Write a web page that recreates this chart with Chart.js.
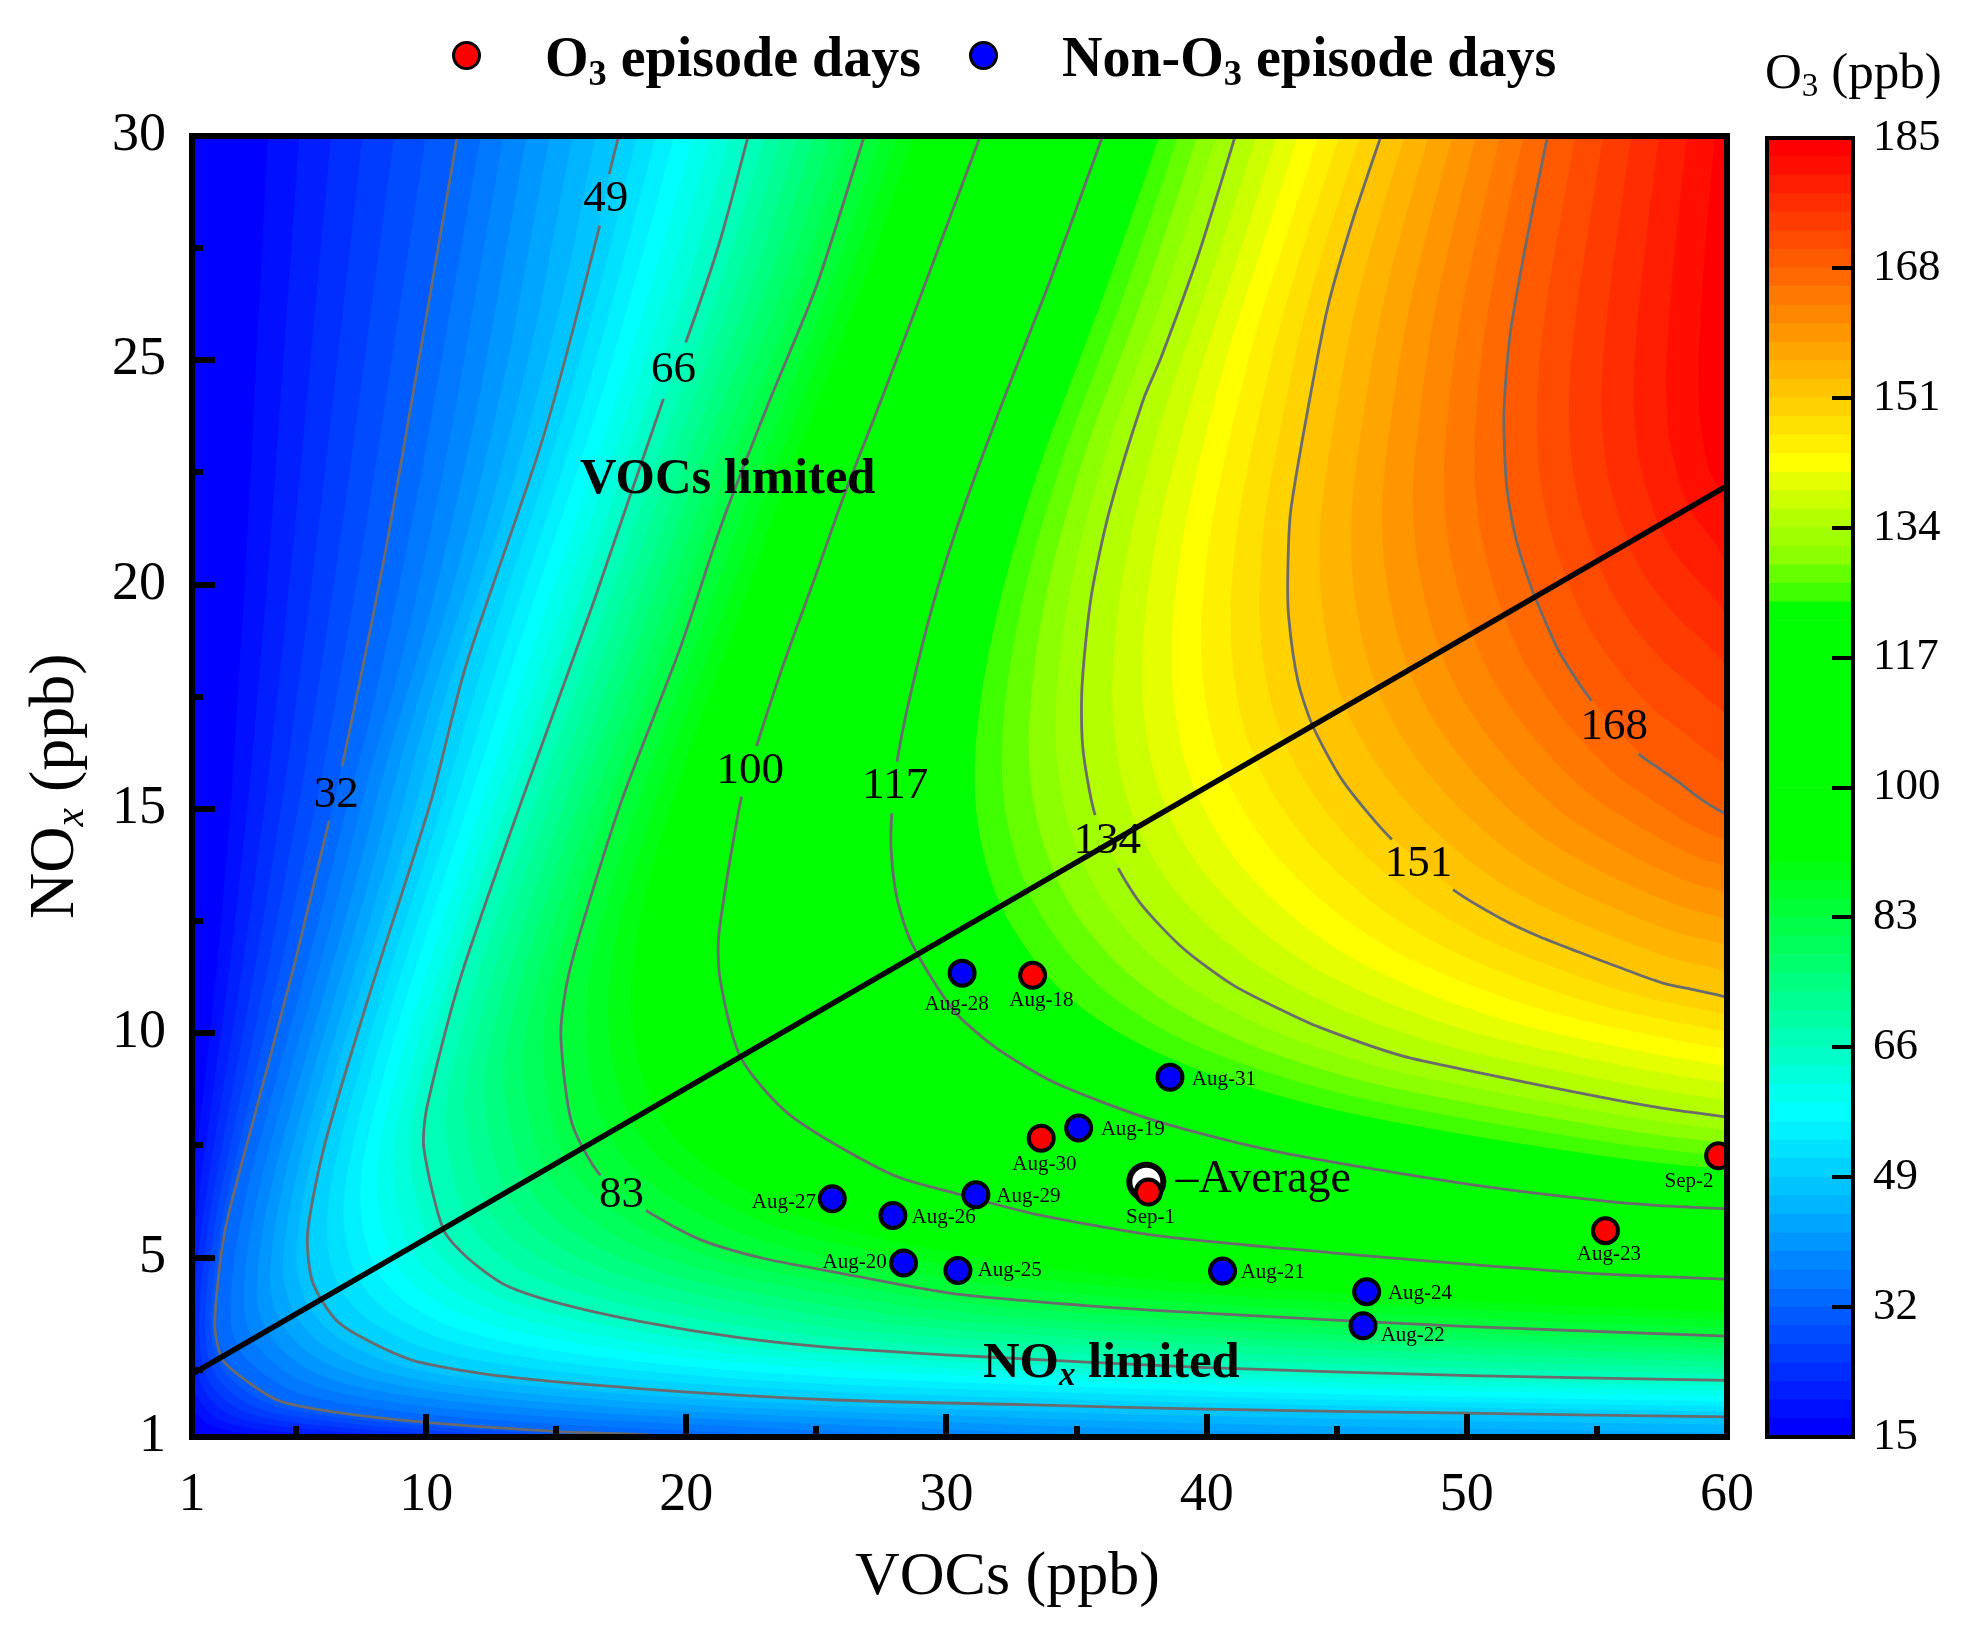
<!DOCTYPE html>
<html>
<head>
<meta charset="utf-8">
<title>O3 isopleth</title>
<script src="https://cdn.jsdelivr.net/npm/chart.js@4/dist/chart.umd.min.js"></script>
<style>
html,body{margin:0;padding:0;background:#fff;}
#wrap{position:relative;width:1970px;height:1638px;overflow:hidden;font-family:"Liberation Serif",serif;color:#000;}
canvas{position:absolute;top:0;}
#plot{left:0;}
#bar{left:1740px;}
.t{position:absolute;line-height:1;white-space:nowrap;}
.t sub{font-size:65%;line-height:0;vertical-align:-0.25em;}
.leg{font-size:56px;font-weight:bold;top:29px;}
.dot{position:absolute;width:23px;height:23px;border:3px solid #000;border-radius:50%;top:41px;}
</style>
</head>
<body>
<div id="wrap">
<canvas id="plot" width="1970" height="1638"></canvas>
<canvas id="bar" width="230" height="1638"></canvas>
<div class="dot" style="left:452px;background:#f00"></div>
<div class="t leg" style="left:545px">O<sub>3</sub> episode days</div>
<div class="dot" style="left:969px;background:#00f"></div>
<div class="t leg" style="left:1062px">Non-O<sub>3</sub> episode days</div>
<div class="t" style="left:1765px;top:46px;font-size:51px">O<sub>3</sub> (ppb)</div>
<div class="t" style="left:855px;top:1542px;font-size:62px">VOCs (ppb)</div>
<div class="t" style="left:20px;top:919px;font-size:64px;transform:rotate(-90deg);transform-origin:0 0">NO<sub><i>x</i></sub> (ppb)</div>
<div class="t" style="left:580px;top:451px;font-size:50.6px;font-weight:bold">VOCs limited</div>
<div class="t" style="left:983px;top:1335px;font-size:50.6px;font-weight:bold">NO<sub><i>x</i></sub> limited</div>
</div>
<script>
// axis ticks
const xMajorTicks = [1, 10, 20, 30, 40, 50, 60];
const xMinorTicks = [5, 15, 25, 35, 45, 55];
const yMajorTicks = [1, 5, 10, 15, 20, 25, 30];
const yMinorTicks = [2.5, 7.5, 12.5, 17.5, 22.5, 27.5];
const colorTicks = [15, 32, 49, 66, 83, 100, 117, 134, 151, 168, 185];

// band edges of the colour bar (70 bands)
const bandEdges = [
  15, 17.43, 19.86, 22.29, 24.71, 27.14, 29.57,
  32, 34.43, 36.86, 39.29, 41.71, 44.14, 46.57,
  49, 51.43, 53.86, 56.29, 58.71, 61.14, 63.57,
  66, 68.43, 70.86, 73.29, 75.71, 78.14, 80.57,
  83, 85.43, 87.86, 90.29, 92.71, 95.14, 97.57,
  100, 102.43, 104.86, 107.29, 109.71, 112.14, 114.57,
  117, 119.43, 121.86, 124.29, 126.71, 129.14, 131.57,
  134, 136.43, 138.86, 141.29, 143.71, 146.14, 148.57,
  151, 153.43, 155.86, 158.29, 160.71, 163.14, 165.57,
  168, 170.43, 172.86, 175.29, 177.71, 180.14, 182.57, 185
];

// isolines, all 20 points, same order: top edge, knee, right edge
const c15X = [2.7, 2.4, 2.2, 1.9, 1.8, 1.5, 1, 0.6, 0.3, 0.4, 1, 2, 4, 8, 14, 18, 24, 32, 45, 60];
const c15Y = [30, 24.6, 20.5, 16, 14.74, 11.54, 8.26, 5.6, 3.53, 1.9, 1.2, 1, 0.9, 0.8, 0.6, 0.5, 0.35, 0.2, 0.1, 0];
const c32X = [11.2, 9.6, 8.36, 6.77, 6.27, 4.94, 3.45, 2.27, 1.88, 2.19, 3.29, 4.39, 6.43, 9.88, 15.05, 18.2, 24, 32, 45, 60];
const c32Y = [30, 24.6, 20.5, 15.95, 14.74, 11.54, 8.26, 5.6, 3.53, 2.71, 2.17, 1.8, 1.56, 1.33, 1.12, 1.06, 0.85, 0.6, 0.35, 0.2];
const c49X = [17.4, 17.04, 16.67, 14.47, 11.53, 10.19, 7.84, 6.11, 5.44, 5.64, 6.58, 8, 9.72, 13, 18.2, 25.5, 33, 40, 50, 60];
const c49Y = [30, 29.15, 28, 23.23, 18.2, 15.18, 10.9, 7.54, 5.53, 4.44, 3.58, 3.08, 2.67, 2.35, 2.08, 1.83, 1.72, 1.62, 1.53, 1.45];
const c66X = [22.38, 21.3, 19.98, 19.12, 16.43, 13.67, 11.29, 10.03, 9.91, 10.66, 11.6, 13, 15.05, 18.2, 22.1, 25.5, 31, 39.74, 50.1, 60];
const c66Y = [30, 27.67, 25.4, 24.14, 19.6, 15.18, 11.18, 8.35, 7.45, 5.63, 4.99, 4.4, 3.99, 3.58, 3.21, 3, 2.8, 2.55, 2.37, 2.26];
const c83X = [26.84, 25, 23.2, 21.37, 19.8, 17.51, 15.84, 15.37, 15.18, 15.6, 16.7, 18.45, 20.54, 22.9, 25.5, 30.2, 36, 41.2, 50.1, 60];
const c83Y = [30, 26.65, 24.1, 21.37, 18.64, 15.18, 12.1, 11, 9.9, 8, 6.83, 6.05, 5.4, 4.99, 4.7, 4.2, 3.9, 3.72, 3.46, 3.25];
const c100X = [31.3, 28.92, 27.48, 26.07, 24.97, 23.72, 22.7, 22.12, 21.25, 21.3, 22.1, 24, 27.9, 30.55, 33.4, 38.07, 44.94, 50.1, 55.3, 60];
const c100Y = [30, 26.3, 24.1, 22, 20.2, 18.2, 16.4, 15.27, 12.2, 11.2, 9.45, 8.17, 6.85, 6.4, 5.97, 5.49, 5.1, 4.85, 4.63, 4.52];
const c117X = [36, 34, 32.18, 30.62, 29.52, 28.58, 28.1, 27.9, 27.87, 28.1, 28.67, 30.23, 31.8, 34.15, 38.07, 42.8, 50.1, 55.3, 58, 60];
const c117Y = [30, 26.8, 24.1, 21.64, 19.64, 17.46, 16.05, 14.9, 14.1, 13, 12, 10.54, 9.72, 8.9, 8.04, 7.35, 6.63, 6.26, 6.14, 6.09];
const c134X = [41.1, 39.67, 38.24, 37.55, 36.26, 35.56, 35.21, 35.24, 35.71, 36.6, 37.5, 39.08, 40.97, 42.8, 44.35, 47.48, 50.4, 55.1, 57.5, 60];
const c134Y = [30, 27.33, 25.05, 24.1, 21.64, 19.73, 17.73, 16.36, 14.86, 13.68, 12.86, 11.9, 11.09, 10.54, 10.13, 9.5, 9.13, 8.58, 8.33, 8.13];
const c151X = [46.7, 45.6, 44.66, 43.95, 43.23, 43.12, 43.15, 43.5, 44.07, 45.24, 47.12, 49.47, 51.36, 52.8, 54.3, 55.9, 57.47, 58.7, 59.5, 60];
const c151Y = [30, 28.1, 26.2, 24.1, 21.64, 20.3, 19.3, 17.87, 16.86, 15.62, 14.32, 13.2, 12.54, 12.15, 11.81, 11.46, 11.13, 10.97, 10.87, 10.8];
const c168X = [53.1, 52.26, 51.67, 51.43, 51.45, 51.55, 51.9, 52.5, 53.15, 53.6, 54.8, 56.6, 57.4, 58.26, 58.8, 59.3, 59.6, 59.8, 59.9, 60];
const c168Y = [30, 27.56, 25.6, 23.9, 23, 22.1, 21, 19.9, 19, 18.45, 17.41, 16.23, 15.9, 15.55, 15.3, 15.1, 15, 14.94, 14.9, 14.87];
const c185X = [60.6, 60.3, 60.2, 60.15, 60.15, 60.15, 60.1, 60.1, 60.1, 60.1, 60.05, 60.05, 60.05, 60.05, 60, 60, 60, 60, 60, 60];
const c185Y = [30, 27.5, 26, 25.2, 24.8, 24.5, 24.2, 24, 23.8, 23.6, 23.4, 23.3, 23.2, 23.1, 23, 22.9, 22.8, 22.7, 22.6, 22.5];

const curveLevels = [15, 32, 49, 66, 83, 100, 117, 134, 151, 168, 185];
const curveXs = [c15X, c32X, c49X, c66X, c83X, c100X, c117X, c134X, c151X, c168X, c185X];
const curveYs = [c15Y, c32Y, c49Y, c66Y, c83Y, c100Y, c117Y, c134Y, c151Y, c168Y, c185Y];

// segment of each drawn contour that is left open for its label
const contourGaps = [3, 1, 2, 10, 6, 6, 8, 10, 10];
const contourLabels = ["32", "49", "66", "83", "100", "117", "134", "151", "168"];
const contourLabelX = [6.54, 16.9, 19.51, 17.51, 22.46, 28.03, 36.18, 48.14, 55.67];
const contourLabelY = [15.3, 28.6, 24.77, 6.4, 15.84, 15.5, 14.27, 13.77, 16.82];

// ridge line between the two regimes
const ridgeX = [1, 60];
const ridgeY = [2.4, 22.2];

// days
const episodeDays = ["Aug-18", "Aug-23", "Aug-30", "Sep-1", "Sep-2"];
const episodeX = [33.31, 55.33, 33.64, 37.76, 59.68];
const episodeY = [11.29, 5.6, 7.66, 6.46, 7.27];
const episodeLabelX = [33.65, 55.46, 33.76, 37.84, 58.54];
const episodeLabelY = [10.74, 5.07, 7.08, 5.9, 6.69];

const otherDays = ["Aug-19", "Aug-20", "Aug-21", "Aug-22", "Aug-24", "Aug-25", "Aug-26", "Aug-27", "Aug-28", "Aug-29", "Aug-31"];
const otherX = [35.08, 28.35, 40.61, 46.01, 46.15, 30.44, 27.94, 25.61, 30.6, 31.13, 38.59];
const otherY = [7.89, 4.88, 4.7, 3.48, 4.24, 4.71, 5.94, 6.31, 11.34, 6.4, 9.02];
const otherLabelX = [37.16, 26.47, 42.54, 47.92, 48.2, 32.43, 29.89, 23.75, 30.39, 33.15, 40.66];
const otherLabelY = [7.85, 4.9, 4.67, 3.26, 4.2, 4.71, 5.9, 6.23, 10.65, 6.37, 8.96];

const averageX = [37.68];
const averageY = [6.69];
const averageLabelX = 38.8;
const averageLabelY = 6.72;

const serif = "'Liberation Serif'";
Chart.defaults.font.family = serif;
Chart.defaults.color = "#000";

function zip(xs, ys) {
  return xs.map((x, i) => ({ x: x, y: ys[i] }));
}

// colour of band i, counted from the bottom of the colour bar
function bandColor(i) {
  let r = 0, g = 255, b = 0;
  if (i <= 17) { g = 15 * i; b = 255; }
  else if (i <= 30) { b = Math.round(255 - 18.2 * (i - 17)); }
  else if (i >= 45 && i <= 52) { r = [64, 102, 140, 160, 180, 204, 230, 255][i - 45]; }
  else if (i > 52) { r = 255; g = Math.max(0, 255 - 15 * (i - 52)); }
  return "rgb(" + r + "," + g + "," + b + ")";
}

// outline of the region above one band edge, between the two isolines around it
function edgeOutline(level) {
  let k = 0;
  while (k < curveLevels.length - 2 && level > curveLevels[k + 1]) k++;
  const t = (level - curveLevels[k]) / (curveLevels[k + 1] - curveLevels[k]);
  return curveXs[k].map((x, i) => ({
    x: x + (curveXs[k + 1][i] - x) * t,
    y: curveYs[k][i] + (curveYs[k + 1][i] - curveYs[k][i]) * t
  }));
}

const fieldPlugin = {
  id: "field",
  beforeDatasetsDraw(chart) {
    const ctx = chart.ctx, a = chart.chartArea;
    const sx = chart.scales.x, sy = chart.scales.y;
    ctx.save();
    ctx.beginPath();
    ctx.rect(a.left, a.top, a.right - a.left, a.bottom - a.top);
    ctx.clip();
    ctx.fillStyle = bandColor(0);
    ctx.fillRect(a.left, a.top, a.right - a.left, a.bottom - a.top);
    for (let i = 1; i < bandEdges.length - 1; i++) {
      const pts = edgeOutline(bandEdges[i]).map(p => ({ x: sx.getPixelForValue(p.x), y: sy.getPixelForValue(p.y) }));
      ctx.beginPath();
      ctx.moveTo(pts[0].x, a.top - 10);
      ctx.lineTo(pts[0].x, pts[0].y);
      for (let j = 1; j < pts.length - 1; j++) {
        ctx.quadraticCurveTo(pts[j].x, pts[j].y, (pts[j].x + pts[j + 1].x) / 2, (pts[j].y + pts[j + 1].y) / 2);
      }
      const last = pts[pts.length - 1];
      ctx.lineTo(last.x, last.y);
      ctx.lineTo(a.right + 40, last.y);
      ctx.lineTo(a.right + 40, a.top - 10);
      ctx.closePath();
      ctx.fillStyle = bandColor(i);
      ctx.fill();
    }
    ctx.restore();
  },
  afterDatasetsDraw(chart) {
    const ctx = chart.ctx;
    const sx = chart.scales.x, sy = chart.scales.y;
    ctx.save();
    ctx.fillStyle = "#000";
    ctx.textAlign = "center";
    ctx.textBaseline = "middle";
    ctx.font = "45px " + serif;
    contourLabels.forEach((t, i) => {
      ctx.fillText(t, sx.getPixelForValue(contourLabelX[i]), sy.getPixelForValue(contourLabelY[i]));
    });
    ctx.font = "21px " + serif;
    episodeDays.forEach((t, i) => {
      ctx.fillText(t, sx.getPixelForValue(episodeLabelX[i]), sy.getPixelForValue(episodeLabelY[i]));
    });
    otherDays.forEach((t, i) => {
      ctx.fillText(t, sx.getPixelForValue(otherLabelX[i]), sy.getPixelForValue(otherLabelY[i]));
    });
    ctx.textAlign = "left";
    ctx.font = "46px " + serif;
    ctx.fillText("\u2013Average", sx.getPixelForValue(averageLabelX), sy.getPixelForValue(averageLabelY));
    ctx.restore();
  },
  afterDraw(chart) {
    const ctx = chart.ctx, a = chart.chartArea;
    ctx.save();
    ctx.strokeStyle = "#000";
    ctx.lineWidth = 6;
    ctx.strokeRect(a.left, a.top, a.right - a.left, a.bottom - a.top);
    ctx.restore();
  }
};

const contourSets = contourLabels.map((t, i) => ({
  label: t,
  data: zip(curveXs[i + 1], curveYs[i + 1]),
  showLine: true,
  pointRadius: 0,
  borderWidth: 2.8,
  borderColor: "#6b6b6d",
  tension: 0.25,
  clip: 0,
  segment: { borderColor: c => c.p0DataIndex === contourGaps[i] ? "rgba(0,0,0,0)" : "#6b6b6d" }
}));

function tickGrid(len) {
  return { z: 1, drawOnChartArea: false, tickLength: len, lineWidth: 6, tickWidth: 6, tickColor: "#000" };
}

new Chart(document.getElementById("plot"), {
  type: "scatter",
  data: {
    datasets: [
      { label: "O3 episode days", data: zip(episodeX, episodeY), backgroundColor: "#f00", borderColor: "#000", borderWidth: 4, pointRadius: 12.5, clip: 0 },
      { label: "Non-O3 episode days", data: zip(otherX, otherY), backgroundColor: "#00f", borderColor: "#000", borderWidth: 4, pointRadius: 12.5, clip: 0 },
      { label: "Average", data: zip(averageX, averageY), backgroundColor: "#fff", borderColor: "#000", borderWidth: 6, pointRadius: 17, clip: 0 },
      { label: "ridge", data: zip(ridgeX, ridgeY), showLine: true, pointRadius: 0, borderColor: "#000", borderWidth: 5.5, clip: 0 }
    ].concat(contourSets)
  },
  options: {
    responsive: false,
    animation: false,
    devicePixelRatio: 1,
    layout: { padding: { top: 136, right: 243, left: 0, bottom: 0 } },
    plugins: { legend: { display: false }, tooltip: { enabled: false } },
    scales: {
      x: {
        type: "linear", position: "bottom", min: 1, max: 60,
        afterBuildTicks: s => { s.ticks = xMajorTicks.map(v => ({ value: v })); },
        afterFit: s => { s.height = 201; },
        border: { display: false },
        grid: tickGrid(-23),
        ticks: { autoSkip: false, maxRotation: 0, font: { size: 54 }, color: "#000", padding: 49 }
      },
      y: {
        type: "linear", position: "left", min: 1, max: 30,
        afterBuildTicks: s => { s.ticks = yMajorTicks.map(v => ({ value: v })); },
        afterFit: s => { s.width = 192; },
        border: { display: false },
        grid: tickGrid(-23),
        ticks: { autoSkip: false, font: { size: 54 }, color: "#000", padding: 49 }
      },
      xMinor: {
        type: "linear", axis: "x", position: { y: 1 }, min: 1, max: 60,
        afterBuildTicks: s => { s.ticks = xMinorTicks.map(v => ({ value: v })); },
        border: { display: false },
        grid: tickGrid(-11),
        ticks: { display: false }
      },
      yMinor: {
        type: "linear", axis: "y", position: { x: 1 }, min: 1, max: 30,
        afterBuildTicks: s => { s.ticks = yMinorTicks.map(v => ({ value: v })); },
        border: { display: false },
        grid: tickGrid(-11),
        ticks: { display: false }
      }
    }
  },
  plugins: [fieldPlugin]
});

// colour bar
const barFrame = {
  id: "barFrame",
  afterDraw(chart) {
    const ctx = chart.ctx, a = chart.chartArea;
    ctx.save();
    ctx.strokeStyle = "#000";
    ctx.lineWidth = 4;
    ctx.strokeRect(a.left, a.top, a.right - a.left, a.bottom - a.top);
    ctx.restore();
  }
};

new Chart(document.getElementById("bar"), {
  type: "bar",
  data: {
    labels: ["O3"],
    datasets: bandEdges.slice(0, -1).map((lo, i) => ({
      label: String(lo),
      data: [[lo, bandEdges[i + 1]]],
      backgroundColor: bandColor(i),
      barPercentage: 1,
      categoryPercentage: 1
    }))
  },
  options: {
    responsive: false,
    animation: false,
    devicePixelRatio: 1,
    layout: { padding: { top: 138, left: 27, right: 0, bottom: 201 } },
    plugins: { legend: { display: false }, tooltip: { enabled: false } },
    scales: {
      x: { display: false, stacked: true },
      y: {
        position: "right", min: 15, max: 185,
        afterBuildTicks: s => { s.ticks = colorTicks.map(v => ({ value: v })); },
        afterFit: s => { s.width = 117; },
        border: { display: false },
        grid: { z: 1, drawOnChartArea: false, tickLength: -21, lineWidth: 4, tickWidth: 4, tickColor: "#000" },
        ticks: { autoSkip: false, font: { size: 45 }, color: "#000", padding: 41 }
      }
    }
  },
  plugins: [barFrame]
});
</script>
</body>
</html>
